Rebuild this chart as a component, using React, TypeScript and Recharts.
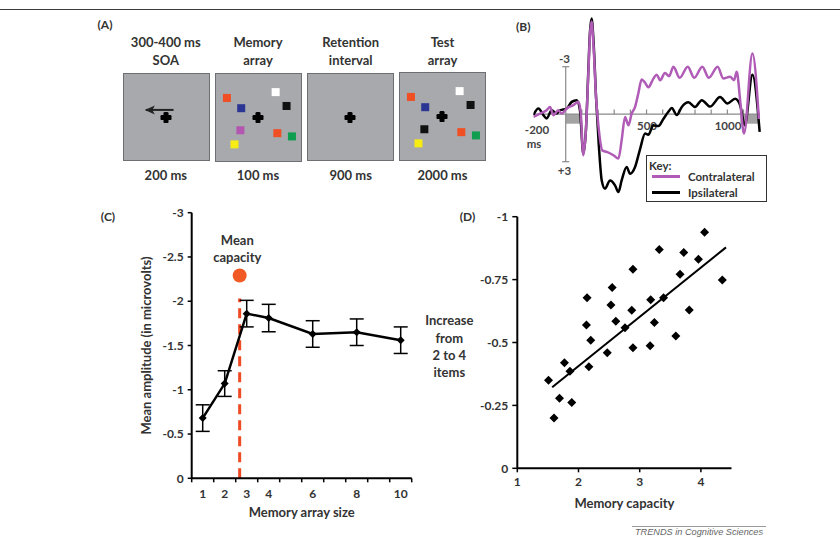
import React from 'react';
import {
  ComposedChart,
  LineChart,
  Line,
  Scatter,
  XAxis,
  YAxis,
  ReferenceLine,
  ReferenceArea,
  ReferenceDot,
  ErrorBar,
} from 'recharts';

// ---------------- Panel A (stimulus display) ----------------
const stimSlotX = [13, 71, 30, 84, 29, 73, 90.4, 22];
const stimSlotY = [28, 21.2, 40, 37.4, 65.8, 69.2, 73, 82.3];
const memoryColors = ['#f04e23', '#ffffff', '#2b3594', '#111111', '#b356b0', '#f04e23', '#0f9d4f', '#f7ec13'];
const testColors = ['#f04e23', '#ffffff', '#2b3594', '#111111', '#111111', '#f04e23', '#0f9d4f', '#f7ec13'];
const fixationX = [50];
const fixationY = [51];
const cueArrowX = [26, 59];
const cueArrowY = [42, 42];
const phaseTitles = [['300-400 ms', 'SOA'], ['Memory', 'array'], ['Retention', 'interval'], ['Test', 'array']];
const phaseDurations = ['200 ms', '100 ms', '900 ms', '2000 ms'];

// ---------------- Panel B (ERP waveforms) ----------------
const contraMs = [-200, -159, -118, -97, -77, -46, -25, 6, 47, 78, 92, 109, 125, 140, 150, 160, 172, 188, 205, 228, 254, 295, 326, 346, 367, 388, 408, 429, 449, 470, 490, 511, 540, 563, 584, 614, 640, 666, 705, 755, 795, 845, 885, 940, 975, 1017, 1041, 1058, 1079, 1103, 1155, 1195];
const contraUv = [0.17, -0.04, -0.25, -0.46, 0.06, -0.25, -0.04, -0.36, -0.57, -0.78, -0.2, 2.6, 1.0, -2.6, -5.0, -5.85, -4.3, -1.0, 1.0, 2.3, 2.38, 2.59, 2.8, 1.65, 0.17, 0.7, -0.04, -0.46, -1.31, -2.2, -2.0, -1.7, -2.2, -2.5, -2.15, -2.6, -2.4, -3.0, -2.3, -3.0, -2.3, -3.0, -2.3, -3.0, -2.26, -2.36, -2.15, -2.68, -0.89, 1.22, -3.84, 0.3];
const ipsiMs = [-200, -169, -138, -118, -87, -56, -35, 6, 37, 68, 88, 109, 125, 140, 150, 160, 172, 188, 205, 223, 243, 274, 305, 326, 346, 377, 398, 429, 460, 491, 511, 542, 573, 604, 635, 656, 687, 718, 759, 800, 842, 893, 955, 1000, 1048, 1079, 1108, 1155, 1200];
const ipsiUv = [0.06, -0.36, 0.06, 0.27, -0.25, -0.04, -0.25, -0.36, -0.78, -0.89, -0.25, 2.5, 1.0, -2.8, -5.2, -6.05, -4.6, -1.0, 2.0, 4.2, 4.7, 4.18, 4.49, 4.92, 4.18, 3.33, 3.76, 3.33, 2.2, 1.22, 1.3, 0.7, 0.75, 0.3, -0.15, -0.4, 0.05, -0.46, -0.75, -0.46, -0.89, -0.48, -1.08, -0.68, -0.97, -0.57, 0.7, -2.5, 1.12];
const bTickMs = [100, 200, 300, 400, 500, 600, 700, 800, 900, 1000, 1100];
const bShadeStart = [0, 1080];
const bShadeEnd = [90, 1195];
const bAxisStart = -200;
const bAxisEnd = 1200;
const bYTicks = [-3, 3];

// ---------------- Panel C (amplitude vs set size) ----------------
const cSizes = [1, 2, 3, 4, 6, 8, 10];
const cMeans = [-0.68, -1.07, -1.86, -1.81, -1.63, -1.65, -1.56];
const cErr = [0.15, 0.145, 0.15, 0.155, 0.15, 0.15, 0.15];
const cTickLabels = [1, 2, 3, 4, 6, 8, 10];
const cMinorTicks = [0.5, 1.5, 2.5, 3.5, 4.5, 5.5, 6.5, 7.5, 8.5, 9.5, 10.5];
const cYTicks = [0, -0.5, -1, -1.5, -2, -2.5, -3];
const meanCapacityX = 2.68;
const meanCapacityTop = -2.03;
const meanCapacityDotY = -2.29;

// ---------------- Panel D (scatter) ----------------
const dCapacity = [1.51, 1.6, 1.69, 1.77, 1.86, 1.89, 2.14, 2.13, 2.2, 2.17, 2.47, 2.55, 2.53, 2.61, 2.76, 2.87, 2.89, 2.89, 3.17, 3.18, 3.24, 3.32, 3.39, 3.59, 3.66, 3.72, 3.81, 3.96, 4.06, 4.35];
const dIncrease = [-0.35, -0.2, -0.278, -0.42, -0.386, -0.262, -0.678, -0.57, -0.509, -0.404, -0.459, -0.719, -0.649, -0.584, -0.559, -0.628, -0.791, -0.479, -0.487, -0.67, -0.579, -0.87, -0.678, -0.526, -0.771, -0.858, -0.629, -0.831, -0.938, -0.748];
const dFitX = [1.57, 4.41];
const dFitY = [-0.322, -0.878];
const dXTicks = [1, 2, 3, 4];
const dYTicks = [0, -0.25, -0.5, -0.75, -1];

// ---------------- styling ----------------
const font = "Lato, 'Open Sans', 'DejaVu Sans', sans-serif";
const ink = '#333333';
const purple = '#b05cb7';

function T(props: any) {
  const { x, y, children, size = 13, weight = 700, color = ink, anchor = 'middle', italic = false, family = font } = props;
  const tx = anchor === 'middle' ? '-50%' : anchor === 'end' ? '-100%' : '0';
  return (
    <div
      style={{
        position: 'absolute',
        left: x,
        top: y,
        transform: `translate(${tx},-50%)`,
        fontFamily: family,
        fontSize: size,
        fontWeight: weight,
        color,
        whiteSpace: 'nowrap',
        lineHeight: 1,
        fontStyle: italic ? 'italic' : 'normal',
      }}
    >
      {children}
    </div>
  );
}

const boxLayout = [
  { left: 122.5, top: 72.5 },
  { left: 214.5, top: 73 },
  { left: 307, top: 72.5 },
  { left: 399, top: 72 },
];
const BOX_W = 87;
const BOX_H = 88.5;
const boxCenters = [165.8, 258, 350.7, 442.5];

const squareShape = (p: any) => (
  <rect x={p.cx - 4} y={p.cy - 4} width={8} height={8} fill={p.payload.color} />
);
const crossShape = (p: any) => (
  <g fill="#000">
    <rect x={p.cx - 5.5} y={p.cy - 2.5} width={11} height={5} rx={1.2} />
    <rect x={p.cx - 2.5} y={p.cy - 5.5} width={5} height={11} rx={1.2} />
  </g>
);
const diamondShape = (p: any) => (
  <path
    d={`M${p.cx},${p.cy - 4.5}L${p.cx + 4.5},${p.cy}L${p.cx},${p.cy + 4.5}L${p.cx - 4.5},${p.cy}Z`}
    fill="#000"
  />
);

function StimBox({ idx }: { idx: number }) {
  const fix = fixationX.map((x, i) => ({ x, y: fixationY[i] }));
  const colors = idx === 1 ? memoryColors : idx === 3 ? testColors : null;
  const squares = colors ? stimSlotX.map((x, i) => ({ x, y: stimSlotY[i], color: colors[i] })) : [];
  const arrow = cueArrowX.map((x, i) => ({ x, y: cueArrowY[i] }));
  const L = boxLayout[idx];
  return (
    <div
      style={{
        position: 'absolute',
        left: L.left,
        top: L.top,
        width: BOX_W,
        height: BOX_H,
        background: '#a7a9ac',
        border: '1.5px solid #6e6f72',
        boxSizing: 'border-box',
      }}
    >
      <ComposedChart width={BOX_W - 3} height={BOX_H - 3} margin={{ top: 0, right: 0, bottom: 0, left: 0 }}>
        <XAxis dataKey="x" type="number" domain={[0, 100]} hide />
        <YAxis dataKey="y" type="number" domain={[0, 100]} reversed hide />
        {idx === 0 && (
          <Line
            data={arrow}
            dataKey="y"
            stroke="#222"
            strokeWidth={2}
            isAnimationActive={false}
            dot={(p: any) =>
              p.index === 0 ? (
                <path
                  key="head"
                  d={`M${p.cx - 1},${p.cy}L${p.cx + 9},${p.cy - 4.5}L${p.cx + 6.5},${p.cy}L${p.cx + 9},${p.cy + 4.5}Z`}
                  fill="#222"
                />
              ) : (
                <g key="tail" />
              )
            }
          />
        )}
        {squares.length > 0 && <Scatter data={squares} dataKey="y" shape={squareShape} isAnimationActive={false} />}
        <Scatter data={fix} dataKey="y" shape={crossShape} isAnimationActive={false} />
      </ComposedChart>
    </div>
  );
}

function CXTick(props: any) {
  const { x, y, payload } = props;
  const v = payload.value;
  if (cTickLabels.includes(v)) {
    return (
      <text x={x} y={y + 11} dy="0.71em" textAnchor="middle" fontFamily={font} fontSize={12} fontWeight={700} fill={ink}>
        {v}
      </text>
    );
  }
  return <line x1={x} x2={x} y1={y} y2={y + 4} stroke="#000" strokeWidth={1.5} />;
}

const tickStyle = { fontFamily: font, fontSize: 12, fontWeight: 700, fill: ink };

export default function App() {
  const contraRows = contraMs.map((ms, i) => ({ ms, uv: contraUv[i] }));
  const ipsiRows = ipsiMs.map((ms, i) => ({ ms, uv: ipsiUv[i] }));
  const cRows = cSizes.map((size, i) => ({ size, amp: cMeans[i], err: cErr[i] }));
  const cAllTicks = [...cMinorTicks, ...cTickLabels].sort((a, b) => a - b);
  const dRows = dCapacity.map((x, i) => ({ x, y: dIncrease[i] }));
  const fitRows = dFitX.map((x, i) => ({ x, y: dFitY[i] }));

  return (
    <div style={{ position: 'absolute', left: 0, top: 0, width: 840, height: 538, background: '#fff', overflow: 'hidden' }}>
      {/* top rule */}
      <div style={{ position: 'absolute', left: 0, top: 8.5, width: 840, height: 1.5, background: '#3a3a3a' }} />

      {/* ---------- Panel A ---------- */}
      <T x={105} y={25} size={12}>(A)</T>
      {phaseTitles.map((t, i) => (
        <React.Fragment key={'pt' + i}>
          <T x={boxCenters[i]} y={42.3}>{t[0]}</T>
          <T x={boxCenters[i]} y={59.5}>{t[1]}</T>
          <T x={boxCenters[i]} y={174.5}>{phaseDurations[i]}</T>
        </React.Fragment>
      ))}
      {[0, 1, 2, 3].map((i) => (
        <StimBox key={'box' + i} idx={i} />
      ))}

      {/* ---------- Panel B ---------- */}
      <T x={523.3} y={26.5} size={12}>(B)</T>
      <T x={564.5} y={59} size={11.5} color="#444">-3</T>
      <T x={564.5} y={170.5} size={11.5} color="#444">+3</T>
      <T x={537} y={130} size={11.5} color="#444">-200</T>
      <T x={534} y={144} size={11.5} color="#444">ms</T>
      <T x={647} y={126} size={11.5} color="#444">500</T>
      <T x={728} y={126} size={11.5} color="#444">1000</T>
      <div style={{ position: 'absolute', left: 520, top: 0 }}>
        <LineChart width={260} height={210} margin={{ top: 11.3, right: 18.7, bottom: 8.7, left: 13.4 }}>
          <XAxis dataKey="ms" type="number" domain={[-200, 1210]} hide allowDataOverflow />
          <YAxis type="number" domain={[-6.5, 5.5]} reversed hide allowDataOverflow />
          {bShadeStart.map((s, i) => (
            <ReferenceArea key={'sh' + i} x1={s} x2={bShadeEnd[i]} y1={0} y2={0.6} fill="#a3a3a3" fillOpacity={1} stroke="none" />
          ))}
          <ReferenceLine segment={[{ x: bAxisStart, y: 0 }, { x: bAxisEnd, y: 0 }]} stroke="#8a8a8a" strokeWidth={1.2} />
          {bTickMs.map((t) => (
            <ReferenceLine key={'bt' + t} segment={[{ x: t, y: 0 }, { x: t, y: -0.3 }]} stroke="#8a8a8a" strokeWidth={1.2} />
          ))}
          <ReferenceLine segment={[{ x: 0, y: bYTicks[0] }, { x: 0, y: bYTicks[1] }]} stroke="#8a8a8a" strokeWidth={1.2} />
          {bYTicks.map((v) => (
            <ReferenceLine key={'by' + v} segment={[{ x: -22, y: v }, { x: 22, y: v }]} stroke="#8a8a8a" strokeWidth={1.2} />
          ))}
          <Line data={ipsiRows} dataKey="uv" type="monotone" stroke="#000" strokeWidth={2.5} dot={false} isAnimationActive={false} />
          <Line data={contraRows} dataKey="uv" type="monotone" stroke={purple} strokeWidth={2.5} dot={false} isAnimationActive={false} />
        </LineChart>
      </div>
      {/* legend B */}
      <div
        style={{
          position: 'absolute',
          left: 645.7,
          top: 155,
          width: 121,
          height: 47.3,
          border: '1px solid #333',
          background: '#fff',
          boxSizing: 'border-box',
        }}
      />
      <T x={649} y={165.5} size={11.5} anchor="start">Key:</T>
      <div style={{ position: 'absolute', left: 652, top: 175.3, width: 28, height: 3, background: purple }} />
      <T x={688} y={177} size={11.5} anchor="start">Contralateral</T>
      <div style={{ position: 'absolute', left: 652, top: 190.8, width: 28, height: 3, background: '#000' }} />
      <T x={688} y={192.5} size={11.5} anchor="start">Ipsilateral</T>

      {/* ---------- Panel C ---------- */}
      <T x={108} y={217} size={12}>(C)</T>
      <T x={237.3} y={240}>Mean</T>
      <T x={237.3} y={257.3}>capacity</T>
      <div style={{ position: 'absolute', left: 100, top: 200 }}>
        <ComposedChart width={330} height={322} data={cRows} margin={{ top: 12.7, right: 18.3, bottom: 0, left: 31.7 }}>
          <XAxis
            dataKey="size"
            type="number"
            domain={[0.5, 10.5]}
            ticks={cAllTicks}
            interval={0}
            height={43.7}
            tickSize={0}
            tickMargin={0}
            tickLine={false}
            tick={CXTick}
            axisLine={{ stroke: '#000', strokeWidth: 2 }}
            label={{ value: 'Memory array size', position: 'insideBottom', offset: 5, style: { fontFamily: font, fontSize: 13, fontWeight: 700, fill: ink } }}
          />
          <YAxis
            type="number"
            domain={[-3, 0]}
            reversed
            ticks={cYTicks}
            interval={0}
            width={60}
            tickSize={4}
            tickMargin={4}
            tick={tickStyle}
            tickLine={{ stroke: '#000', strokeWidth: 1.5 }}
            axisLine={{ stroke: '#000', strokeWidth: 2 }}
            label={{
              value: 'Mean amplitude (in microvolts)',
              angle: -90,
              position: 'insideLeft',
              offset: 15,
              style: { textAnchor: 'middle', fontFamily: font, fontSize: 13, fontWeight: 700, fill: ink },
            }}
          />
          <ReferenceLine
            segment={[{ x: meanCapacityX, y: 0 }, { x: meanCapacityX, y: meanCapacityTop }]}
            stroke="#ef4a23"
            strokeWidth={3}
            strokeDasharray="10 6"
          />
          <ReferenceDot x={meanCapacityX} y={meanCapacityDotY} r={7} fill="#f15a24" stroke="none" />
          <Line
            dataKey="amp"
            type="linear"
            stroke="#000"
            strokeWidth={2.5}
            isAnimationActive={false}
            dot={(p: any) => <path key={'cd' + p.index} d={`M${p.cx},${p.cy - 4}L${p.cx + 4},${p.cy}L${p.cx},${p.cy + 4}L${p.cx - 4},${p.cy}Z`} fill="#000" />}
          >
            <ErrorBar dataKey="err" direction="y" width={7} stroke="#000" strokeWidth={1.5} />
          </Line>
        </ComposedChart>
      </div>

      {/* ---------- Panel D ---------- */}
      <T x={467.5} y={217} size={12}>(D)</T>
      <T x={449.3} y={320.3}>Increase</T>
      <T x={449.3} y={337.7}>from</T>
      <T x={449.3} y={355}>2 to 4</T>
      <T x={449.3} y={372.3}>items</T>
      <div style={{ position: 'absolute', left: 460, top: 200 }}>
        <ComposedChart width={300} height={310} margin={{ top: 16.7, right: 28.5, bottom: 0, left: 7.3 }}>
          <XAxis
            dataKey="x"
            type="number"
            domain={[1, 4.5]}
            ticks={dXTicks}
            interval={0}
            height={41.7}
            tickSize={4}
            tickMargin={5}
            tick={tickStyle}
            tickLine={{ stroke: '#000', strokeWidth: 1.5 }}
            axisLine={{ stroke: '#000', strokeWidth: 2 }}
            label={{ value: 'Memory capacity', position: 'insideBottom', offset: 2, style: { fontFamily: font, fontSize: 13, fontWeight: 700, fill: ink } }}
          />
          <YAxis
            dataKey="y"
            type="number"
            domain={[-1, 0]}
            reversed
            ticks={dYTicks}
            interval={0}
            width={50}
            tickSize={5}
            tickMargin={4}
            tick={tickStyle}
            tickLine={{ stroke: '#000', strokeWidth: 1.5 }}
            axisLine={{ stroke: '#000', strokeWidth: 2 }}
          />
          <Scatter data={dRows} dataKey="y" shape={diamondShape} isAnimationActive={false} />
          <Line data={fitRows} dataKey="y" type="linear" stroke="#000" strokeWidth={2} dot={false} isAnimationActive={false} />
        </ComposedChart>
      </div>

      {/* footer */}
      <div style={{ position: 'absolute', left: 631.7, top: 525.5, width: 134.5, height: 1, background: '#9a9a9a' }} />
      <T x={699} y={532.7} size={9.2} weight={400} color="#666" italic family="'Liberation Sans', Arial, sans-serif">
        TRENDS in Cognitive Sciences
      </T>
    </div>
  );
}
